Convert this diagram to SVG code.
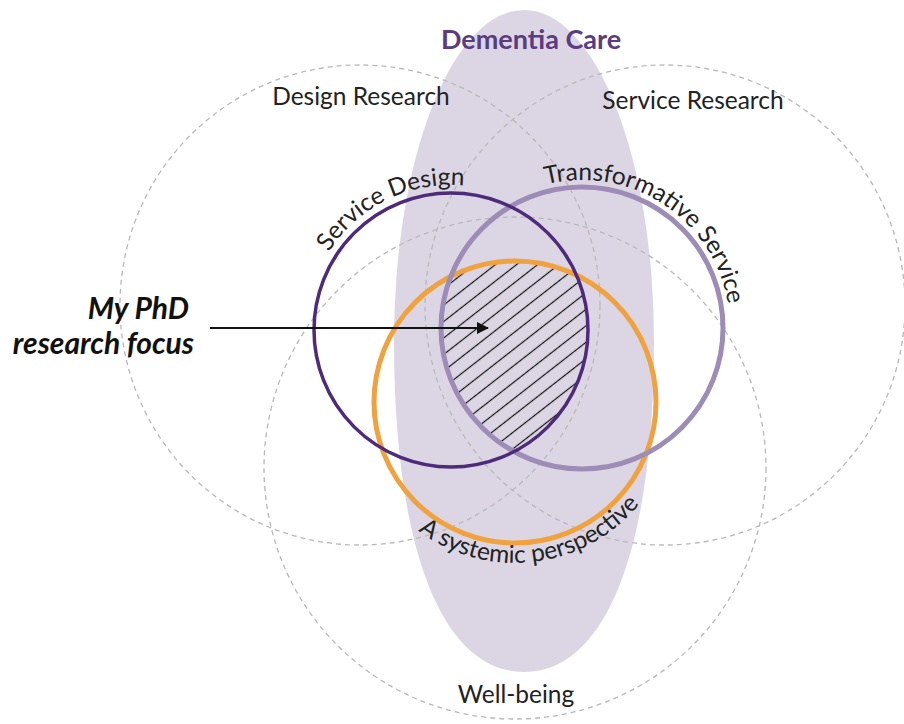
<svg xmlns="http://www.w3.org/2000/svg" width="904" height="724" viewBox="0 0 904 724">
<style>
.lbl{font-family:Lato,"Open Sans","Liberation Sans",sans-serif;font-size:24.5px;fill:#222}
.dash{fill:none;stroke:#b8b8b8;stroke-width:1.3;stroke-dasharray:5 4}
.title{font-family:Lato,"Open Sans","Liberation Sans",sans-serif;font-size:27px;font-weight:bold;fill:#5a3c82}
.focus{font-family:Lato,"Open Sans","Liberation Sans",sans-serif;font-size:30px;font-weight:bold;font-style:italic;fill:#111}
</style>
<defs>
<pattern id="hatch" width="13" height="13" patternUnits="userSpaceOnUse" patternTransform="rotate(-38)">
<line x1="0" y1="6.5" x2="13" y2="6.5" stroke="#111" stroke-width="1.2"/>
</pattern>
<clipPath id="cA"><circle cx="451" cy="330" r="137"/></clipPath>
<clipPath id="cB"><circle cx="582" cy="328" r="141"/></clipPath>
<clipPath id="cC"><circle cx="515" cy="402" r="141"/></clipPath>
<marker id="arr" markerWidth="12" markerHeight="12" refX="11" refY="6" orient="auto" markerUnits="userSpaceOnUse">
<path d="M0,0 L12,6 L0,12 z" fill="#111"/>
</marker>
<path id="pSD" d="M306,330 A145,145 0 0 1 596,330"/>
<path id="pTS" d="M434,328 A148,148 0 0 1 730,328"/>
<path id="pSP" d="M354,402 A161,161 0 0 0 676,402"/>
</defs>
<g id="dementia-care">
<path d="M394,341 A130,331 0 0 1 654,341 C654,549.5 605.9,672 524,672 C442.1,672 394,549.5 394,341 Z" fill="#dcd6e4"/>
<text class="title" x="531" y="49" text-anchor="middle">Dementia Care</text>
</g>
<g id="design-research">
<circle class="dash" cx="360" cy="305" r="240"/>
<text class="lbl" x="361" y="105" text-anchor="middle">Design Research</text>
</g>
<g id="service-research">
<circle class="dash" cx="665" cy="305" r="240"/>
<text class="lbl" x="693" y="109" text-anchor="middle">Service Research</text>
</g>
<g id="well-being">
<circle class="dash" cx="515" cy="468" r="251"/>
<text class="lbl" x="516" y="703" text-anchor="middle">Well-being</text>
</g>
<g id="phd-focus">
<g clip-path="url(#cA)"><g clip-path="url(#cB)"><g clip-path="url(#cC)">
<rect x="300" y="180" width="450" height="400" fill="url(#hatch)"/>
</g></g></g>
<text class="focus" x="189" y="319" text-anchor="end">My PhD</text>
<text class="focus" x="194" y="354" text-anchor="end">research focus</text>
</g>
<g id="systemic-perspective">
<circle cx="515" cy="402" r="141" fill="none" stroke="#f0a23f" stroke-width="5"/>
<text class="lbl"><textPath href="#pSP" startOffset="53.8%" text-anchor="middle">A systemic perspective</textPath></text>
</g>
<g id="transformative-service">
<circle cx="582" cy="328" r="141" fill="none" stroke="#9d8db6" stroke-width="5"/>
<text class="lbl"><textPath href="#pTS" startOffset="68.5%" text-anchor="middle">Transformative Service</textPath></text>
</g>
<g id="service-design">
<circle cx="451" cy="330" r="137" fill="none" stroke="#4e2a7a" stroke-width="3.5"/>
<text class="lbl"><textPath href="#pSD" startOffset="35.5%" text-anchor="middle">Service Design</textPath></text>
</g>
<g id="connectors">
<line x1="210" y1="328" x2="488" y2="328" stroke="#111" stroke-width="2" marker-end="url(#arr)"/>
</g>
</svg>
